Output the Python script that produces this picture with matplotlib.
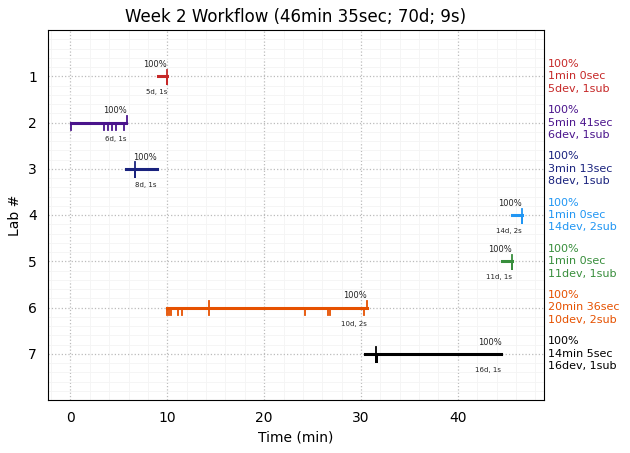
import matplotlib
matplotlib.use("Agg")
import matplotlib.pyplot as plt
from matplotlib.ticker import AutoMinorLocator

labs = [1, 2, 3, 4, 5, 6, 7]
colors = ["#c62828", "#4a148c", "#1a237e", "#2196f3", "#388e3c", "#e65100", "#000000"]
starts = [9.0, 0.1, 5.7, 45.6, 44.6, 10.0, 30.4]
ends = [10.0, 5.78, 8.9, 46.6, 45.6, 30.6, 44.5]
dev_times = [
    [10.0, 10.0, 10.0, 10.0, 10.0],
    [0.05, 3.46, 3.87, 4.25, 4.73, 5.53],
    [6.7, 6.7, 6.7, 6.7, 6.7, 6.7, 6.7, 6.7],
    [46.6] * 14,
    [45.6] * 11,
    [10.0, 10.2, 10.38, 11.07, 11.55, 14.28, 24.26, 26.63, 26.81, 30.35],
    [31.52, 31.53, 31.54, 31.55, 31.56, 31.57, 31.58, 31.59, 31.6, 31.61, 31.62, 31.63, 31.64, 31.65, 31.66, 31.67],
]
sub_times = [
    [10.0],
    [5.8],
    [6.7],
    [46.6],
    [45.6],
    [14.28, 30.6],
    [31.6],
]
percents = ["100%"] * 7
durations = ["1min 0sec", "5min 41sec", "3min 13sec", "1min 0sec", "1min 0sec", "20min 36sec", "14min 5sec"]
n_dev = [5, 6, 8, 14, 11, 10, 16]
n_sub = [1, 1, 1, 2, 1, 2, 1]
title = "Week 2 Workflow (46min 35sec; 70d; 9s)"

fig = plt.figure(figsize=(6.3, 4.53), dpi=100)
ax = fig.add_axes([48/630, 1-400/453, (544-48)/630, (400-30)/453])

for lab, c, s, e, devs, subs, pct, dur, nd, ns in zip(labs, colors, starts, ends, dev_times, sub_times,
                                                        percents, durations, n_dev, n_sub):
    ax.plot([s, e], [lab, lab], color=c, lw=2.2, solid_capstyle="projecting", zorder=3)
    for t in devs:
        ax.plot([t, t], [lab, lab + 0.17], color=c, lw=1.3, zorder=3)
    for t in subs:
        ax.plot([t, t], [lab, lab - 0.14], color=c, lw=1.3, zorder=3)
    ax.text(e, lab - 0.25, pct, fontsize=6, ha="right", va="center", color="#222222")
    ax.text(e, lab + 0.35, f"{nd}d, {ns}s", fontsize=5, ha="right", va="center", color="#222222")
    ax.text(1.008, lab, f"{pct}\n{dur}\n{nd}dev, {ns}sub", transform=ax.get_yaxis_transform(),
            fontsize=8, ha="left", va="center", color=c, linespacing=1.3, clip_on=False)

ax.set_xlim(-2.32, 48.9)
ax.set_ylim(8, 0)
ax.set_yticks(labs)
ax.set_xticks([0, 10, 20, 30, 40])
ax.xaxis.set_minor_locator(AutoMinorLocator(5))
ax.yaxis.set_minor_locator(AutoMinorLocator(5))
ax.grid(True, which="major", linestyle=":", color="#bbbbbb", lw=0.9)
ax.grid(True, which="minor", linestyle="-", color="#f4f4f4", lw=0.6)
ax.set_axisbelow(True)
ax.tick_params(which="both", length=0, labelsize=10, pad=8)
ax.set_xlabel("Time (min)", fontsize=10)
ax.set_ylabel("Lab #", fontsize=10)
ax.set_title(title, fontsize=12)

fig.savefig("out.png", dpi=100)
